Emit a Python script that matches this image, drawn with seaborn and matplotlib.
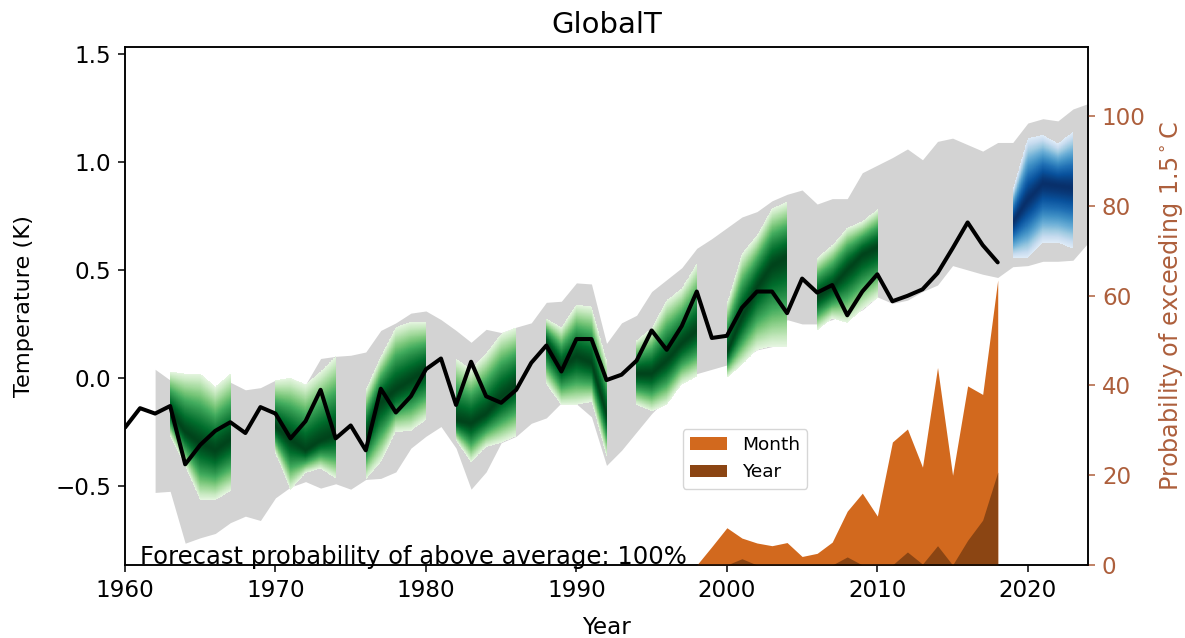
import numpy as np
import pandas as pd
import matplotlib
matplotlib.use("Agg")
import matplotlib.pyplot as plt
import seaborn as sns

# --------------------------------------------------
# Data
# --------------------------------------------------

obs_years = list(range(1960, 2019))
obs_temp = [
    -0.23, -0.14, -0.165, -0.13, -0.40, -0.31, -0.245, -0.205, -0.255, -0.135,
    -0.165, -0.28, -0.20, -0.055, -0.28, -0.22, -0.335, -0.05, -0.16, -0.085,
    0.04, 0.09, -0.125, 0.075, -0.085, -0.115, -0.055, 0.07, 0.15, 0.03,
    0.18, 0.18, -0.01, 0.015, 0.08, 0.22, 0.13, 0.24, 0.40, 0.185,
    0.195, 0.325, 0.40, 0.40, 0.30, 0.46, 0.395, 0.43, 0.29, 0.40,
    0.48, 0.355, 0.38, 0.41, 0.485, 0.60, 0.72, 0.615, 0.535,
]

band_years = list(range(1962, 2025))
band_upper = [
    0.04, -0.01, 0.0, 0.0, -0.04, -0.02, -0.055, -0.045,
    -0.01, 0.0, -0.03, 0.09, 0.10, 0.105, 0.12, 0.22, 0.255, 0.30,
    0.31, 0.27, 0.22, 0.165, 0.225, 0.21, 0.235, 0.255, 0.35, 0.355,
    0.44, 0.435, 0.16, 0.255, 0.29, 0.40, 0.455, 0.51, 0.60, 0.645,
    0.695, 0.745, 0.77, 0.82, 0.85, 0.87, 0.805, 0.83, 0.83, 0.95,
    0.985, 1.02, 1.06, 1.01, 1.095, 1.11, 1.08, 1.05, 1.09, 1.09,
    1.18, 1.20, 1.19, 1.245, 1.27,
]
band_lower = [
    -0.53, -0.525, -0.765, -0.74, -0.72, -0.67, -0.64, -0.66,
    -0.555, -0.505, -0.48, -0.51, -0.49, -0.515, -0.47, -0.465, -0.435, -0.325,
    -0.27, -0.225, -0.325, -0.515, -0.435, -0.30, -0.27, -0.21, -0.185, -0.115,
    -0.12, -0.18, -0.405, -0.335, -0.25, -0.165, -0.095, -0.025, 0.02, 0.04,
    0.06, 0.085, 0.13, 0.145, 0.27, 0.25, 0.25, 0.27, 0.30, 0.315,
    0.375, 0.345, 0.36, 0.40, 0.43, 0.52, 0.50, 0.48, 0.465, 0.515,
    0.52, 0.54, 0.54, 0.545, 0.625,
]

# forecast windows: first year, then top / middle / bottom of the plume per year
green_starts = [1963, 1970, 1976, 1982, 1988, 1994, 2000, 2006]
green_top = [
    [0.03, 0.02, 0.02, -0.04, 0.02],
    [-0.01, 0.0, -0.03, 0.03, 0.10],
    [-0.055, 0.10, 0.235, 0.26, 0.26],
    [0.09, 0.04, 0.115, 0.205, 0.235],
    [0.275, 0.235, 0.34, 0.33, 0.085],
    [0.175, 0.23, 0.36, 0.415, 0.53],
    [0.345, 0.575, 0.66, 0.785, 0.815],
    [0.555, 0.615, 0.695, 0.725, 0.78],
]
green_mid = [
    [-0.155, -0.25, -0.30, -0.335, -0.285],
    [-0.225, -0.285, -0.335, -0.29, -0.26],
    [-0.27, -0.11, -0.055, -0.01, 0.035],
    [-0.195, -0.21, -0.165, -0.09, -0.03],
    [0.16, 0.05, 0.10, 0.07, -0.165],
    [0.02, 0.02, 0.08, 0.16, 0.22],
    [0.115, 0.28, 0.42, 0.52, 0.56],
    [0.375, 0.42, 0.50, 0.57, 0.605],
]
green_bottom = [
    [-0.27, -0.41, -0.565, -0.565, -0.525],
    [-0.35, -0.52, -0.44, -0.42, -0.465],
    [-0.47, -0.39, -0.25, -0.245, -0.195],
    [-0.29, -0.39, -0.32, -0.30, -0.27],
    [-0.03, -0.125, -0.125, -0.11, -0.36],
    [-0.125, -0.155, -0.125, -0.03, 0.005],
    [0.0, 0.06, 0.13, 0.145, 0.145],
    [0.22, 0.275, 0.255, 0.315, 0.37],
]

blue_start = 2019
blue_top = [0.87, 1.11, 1.125, 1.085, 1.14]
blue_mid = [0.72, 0.825, 0.90, 0.89, 0.88]
blue_bottom = [0.555, 0.555, 0.625, 0.625, 0.60]

prob_years = list(range(1998, 2019))
prob_month = [
    0, 4.1, 8.3, 6.0, 4.9, 4.3, 5.0, 1.9, 2.6, 5.1, 12.0,
    16.0, 10.9, 27.4, 30.3, 21.8, 44.0, 20.0, 39.9, 38.0, 63.5,
]
prob_year = [
    0, 0, 0, 1.4, 0, 0, 0, 0, 0, 0, 1.8,
    0, 0, 0, 2.9, 0.2, 4.3, 0, 5.5, 10.0, 20.7,
]

right_color = "#ad5f3c"


# --------------------------------------------------
# Helper for the shaded forecast plumes
# --------------------------------------------------

def draw_plume(ax, start, top, mid, bottom, cmap):
    years = start + np.arange(len(mid))
    xs = np.linspace(years[0], years[-1], 150)
    ys = np.linspace(min(bottom), max(top), 500)
    hi = np.interp(xs, years, top)
    md = np.interp(xs, years, mid)
    lo = np.interp(xs, years, bottom)

    xg, yg = np.meshgrid(xs, ys)
    up = (yg - md) / (hi - md)
    dn = (md - yg) / (md - lo)
    dist = np.where(yg >= md, up, dn)
    shade = 0.12 + 0.88 * (1 - dist ** 1.4)
    shade = np.ma.masked_where(dist > 1, shade)

    ax.pcolormesh(xs, ys, shade, cmap=cmap, vmin=0, vmax=1,
                  shading="nearest", zorder=2, rasterized=True)


# --------------------------------------------------
# Figure
# --------------------------------------------------

sns.set_style("ticks", {"axes.edgecolor": "black", "xtick.color": "black",
                        "ytick.color": "black", "text.color": "black",
                        "axes.labelcolor": "black"})
plt.rcParams["font.family"] = ["DejaVu Sans"]
plt.rcParams["axes.linewidth"] = 1.1

fig = plt.figure(figsize=(11.85, 6.38), dpi=100)
ax = fig.add_axes([125 / 1185, 1 - 565 / 638, (1088 - 125) / 1185, (565 - 47) / 638])

ax.fill_between(band_years, band_lower, band_upper, color="lightgray", lw=0, zorder=1)

greens = sns.color_palette("Greens", as_cmap=True)
blues = sns.color_palette("Blues", as_cmap=True)
for i in range(len(green_starts)):
    draw_plume(ax, green_starts[i], green_top[i], green_mid[i], green_bottom[i], greens)
draw_plume(ax, blue_start, blue_top, blue_mid, blue_bottom, blues)

obs_df = pd.DataFrame({"Year": obs_years, "Temp": obs_temp})
sns.lineplot(data=obs_df, x="Year", y="Temp", color="black", linewidth=2.9,
             ax=ax, zorder=3)

ax.set_xlim(1960, 2024)
ax.set_ylim(-0.866, 1.532)
ax.set_xticks(range(1960, 2021, 10))
ax.set_yticks([-0.5, 0.0, 0.5, 1.0, 1.5])
ax.set_xlabel("Year", fontsize=16.6, labelpad=10)
ax.set_ylabel("Temperature (K)", fontsize=16.2, labelpad=15)
ax.set_title("GlobalT", fontsize=21, pad=10)
ax.tick_params(labelsize=16.6, width=1.1, length=5, pad=5)
ax.text(0.016, 0.002, "Forecast probability of above average: 100%",
        transform=ax.transAxes, fontsize=17.5, va="baseline", zorder=6)

# probability of exceeding 1.5 C on the right axis
ax2 = ax.twinx()
ax2.fill_between(prob_years, 0, prob_month, color="chocolate", lw=0, label="Month")
ax2.fill_between(prob_years, 0, prob_year, color="saddlebrown", lw=0, label="Year")
ax2.set_ylim(0, 115.4)
ax2.set_yticks(range(0, 101, 20))
ax2.set_ylabel(r"Probability of exceeding 1.5$^\circ$C", color=right_color,
               fontsize=17.2, labelpad=8)
ax2.tick_params(axis="y", colors=right_color, labelsize=16.6, width=1.1, length=5, pad=5)
ax2.spines["right"].set_color("black")

ax2.legend(loc="lower left", bbox_to_anchor=(0.579, 0.147), fontsize=13.3, frameon=True,
           borderaxespad=0)

plt.savefig("out.png", dpi=100)
